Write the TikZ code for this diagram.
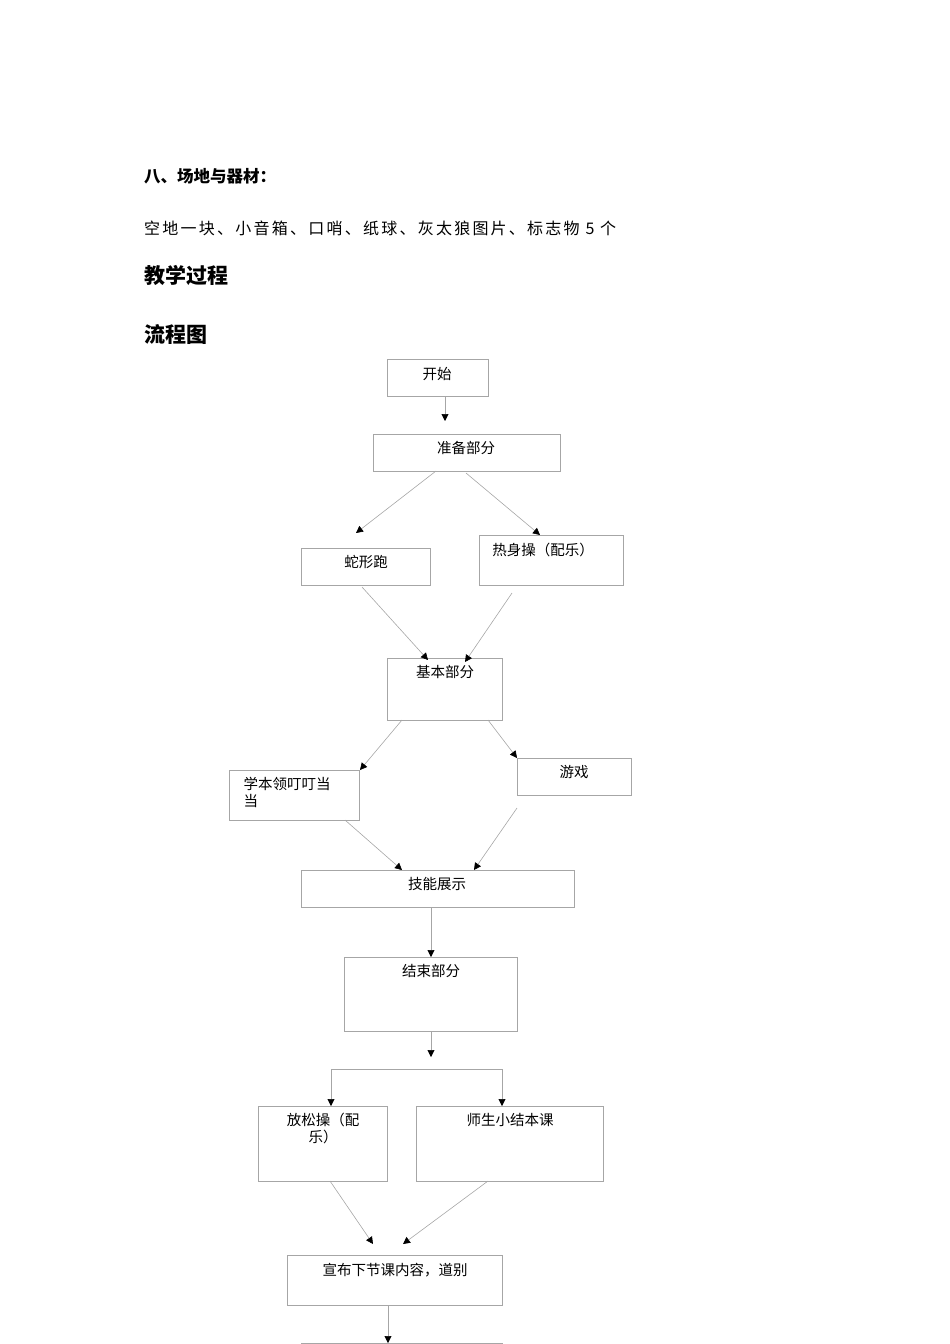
\documentclass[tikz,border=0pt]{standalone}
\usepackage{fontspec}
\setmainfont{Noto Sans CJK SC}
\newfontfamily\spaced{Noto Sans CJK SC}[LetterSpace=14]
\usetikzlibrary{arrows.meta}
\begin{document}
\begin{tikzpicture}[x=1pt,y=-1pt,
 bx/.style={draw=black!35,line width=0.6pt,anchor=north west,inner sep=0pt},
 lab/.style={font=\fontsize{14.5}{17}\selectfont,anchor=north,align=center},
 ar/.style={draw=black!35,line width=0.6pt,-{Triangle[length=7pt,width=7pt,color=black]}},
 ln/.style={draw=black!35,line width=0.6pt}]
\useasboundingbox (0,0) rectangle (950,1344);
\node[anchor=west,inner sep=0pt,font=\bfseries\fontsize{16.5}{18}\selectfont] (t1) at (144,176) {八、场地与器材：};
\node[anchor=west,inner sep=0pt,font=\spaced\fontsize{16}{18}\selectfont] (t2) at (144,228) {空地一块、小音箱、口哨、纸球、灰太狼图片、标志物 5 个};
\node[anchor=west,inner sep=0pt,font=\bfseries\fontsize{21}{24}\selectfont] (t3) at (144,275) {教学过程};
\node[anchor=west,inner sep=0pt,font=\bfseries\fontsize{21}{24}\selectfont] (t4) at (144,334) {流程图};
% boxes
\node[bx,minimum width=101,minimum height=37] (b1) at (387,359) {};
\node[lab] at (437,364) {开始};
\node[bx,minimum width=187,minimum height=37] (b2) at (373,434) {};
\node[lab] at (466,438) {准备部分};
\node[bx,minimum width=129,minimum height=37] (b3) at (301,548) {};
\node[lab] at (366,552) {蛇形跑};
\node[bx,minimum width=144,minimum height=50] (b4) at (479,535) {};
\node[lab] at (543,540) {热身操（配乐）};
\node[bx,minimum width=115,minimum height=62] (b5) at (387,658) {};
\node[lab] at (445,662) {基本部分};
\node[bx,minimum width=130,minimum height=50] (b6) at (229,770) {};
\node[lab,anchor=north west,align=left] at (240,774) {学本领叮叮当\\当};
\node[bx,minimum width=114,minimum height=37] (b7) at (517,758) {};
\node[lab] at (574,762) {游戏};
\node[bx,minimum width=273,minimum height=37] (b8) at (301,870) {};
\node[lab] at (437,874) {技能展示};
\node[bx,minimum width=173,minimum height=74] (b9) at (344,957) {};
\node[lab] at (431,961) {结束部分};
\node[bx,minimum width=129,minimum height=75] (b10) at (258,1106) {};
\node[lab] at (323,1110) {放松操（配\\乐）};
\node[bx,minimum width=187,minimum height=75] (b11) at (416,1106) {};
\node[lab] at (510,1110) {师生小结本课};
\node[bx,minimum width=215,minimum height=50] (b12) at (287,1255) {};
\node[lab] at (395,1260) {宣布下节课内容，道别};
\draw[ln] (301,1344) -- (301,1343) -- (502,1343) -- (502,1344);
% coordinates
\coordinate (a1) at (445,421);
\coordinate (a2) at (356,533);
\coordinate (a3) at (540,535);
\coordinate (a4) at (428,660);
\coordinate (a5) at (465,662);
\coordinate (a6) at (360,770);
\coordinate (a7) at (517,758);
\coordinate (a8) at (402,870);
\coordinate (a9) at (474,870);
\coordinate (a10) at (431,957);
\coordinate (a11) at (431,1057);
\coordinate (s1) at (331,1069);
\coordinate (s2) at (502,1069);
\coordinate (a12) at (331,1106);
\coordinate (a13) at (502,1106);
\coordinate (a14) at (373,1244);
\coordinate (a15) at (403,1244);
\coordinate (a16) at (388,1343);
% arrows
\draw[ar] (b1.south -| a1) -- (a1);
\draw[ar] (436,471) -- (a2);
\draw[ar] (466,473) -- (a3);
\draw[ar] (362,587) -- (a4);
\draw[ar] (512,593) -- (a5);
\draw[ar] (402,720) -- (a6);
\draw[ar] (488,720) -- (a7);
\draw[ar] (345,820) -- (a8);
\draw[ar] (517,808) -- (a9);
\draw[ar] (b8.south -| a10) -- (a10);
\draw[ar] (b9.south -| a11) -- (a11);
\draw[ln] (s1) -- (s2);
\draw[ar] (s1) -- (a12);
\draw[ar] (s2) -- (a13);
\draw[ar] (330,1181) -- (a14);
\draw[ar] (488,1181) -- (a15);
\draw[ar] (b12.south -| a16) -- (a16);
\end{tikzpicture}
\end{document}
